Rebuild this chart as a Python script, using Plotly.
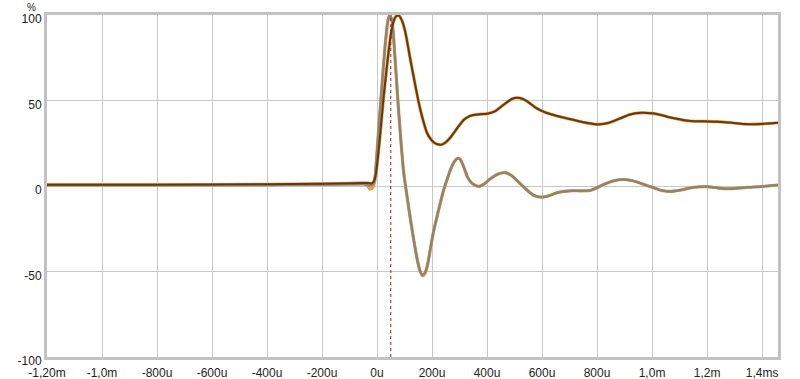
import plotly.graph_objects as go

# time axis in microseconds
t_step = [-1200, -800, -400, -200, -100, -50, -30, -20, -12, -4, 4, 12, 24, 36, 48, 58, 68, 79, 90, 100,
          109, 120, 133, 145, 157, 170, 182, 195, 208, 220, 235, 250, 265, 279, 297, 315, 333, 351, 375, 400,
          430, 460, 490, 510, 530, 546, 575, 605, 635, 666, 700, 730, 765, 801, 840, 885, 920, 960, 1000, 1030,
          1055, 1100, 1139, 1190, 1237, 1290, 1333, 1400, 1458]
step = [0.8, 0.8, 1.0, 1.3, 1.6, 1.8, 1.7, 1.5, 2.5, 7, 18, 31, 52, 70, 86, 95, 99, 99.7, 97, 92,
        85, 75, 64, 54, 45, 37, 31, 27.5, 25.3, 24.4, 24.2, 25.6, 28, 31, 35, 38.6, 40.6, 41.5, 42, 42.3,
        43.8, 47.5, 50.9, 51.6, 50.9, 49.5, 46, 43.5, 41.8, 40.5, 39.2, 38, 36.8, 36, 36.8, 39.6, 41.8, 42.8, 42.5, 41.6,
        40.5, 39, 38, 37.8, 37.6, 37, 36.2, 36.3, 37]

t_imp = [-1200, -800, -400, -200, -100, -50, -35, -25, -15, -8, 0, 10, 20, 30, 40, 47, 55, 65, 75, 85,
         97, 110, 122, 133, 145, 155, 165, 175, 185, 195, 205, 218, 230, 242, 255, 267, 280, 293, 303, 315,
         328, 340, 355, 372, 390, 410, 440, 466, 490, 515, 546, 570, 594, 619, 645, 666, 703, 740, 775, 800,
         823, 860, 896, 925, 946, 975, 1005, 1035, 1066, 1100, 1150, 1201, 1240, 1274, 1310, 1346, 1400, 1458]
impulse = [0.5, 0.5, 0.6, 0.8, 1.0, 1.0, 0.7, 0.4, 1.0, 5, 20, 42, 63, 83, 97, 100, 96, 76, 52, 30,
           8, -7, -20, -31, -42, -49, -52, -50.5, -45, -36, -27, -18, -10, -2.5, 4, 9.5, 14, 16.2, 15.5, 11.3,
           5.6, 2.5, 0.6, -0.2, 1.2, 4, 7, 7.8, 6, 2.2, -2.5, -5.5, -6.5, -6, -4.5, -3.5, -2.8, -2.8, -2.6, -1,
           0.8, 3, 3.8, 3.2, 2.3, 0.6, -1, -2.6, -3.2, -2.5, -0.8, -0.4, -1.2, -1.6, -1.3, -0.8, -0.3, 0.6]

# orange overlay (second measurement, nearly identical to the impulse)
orange = [0.6, 0.6, 0.8, 1.0, 1.2, 1.3, 0.2, -1.8, -0.6, 3, 20, 42, 63, 83, 97, 100, 96, 76, 52, 30,
          8, -7, -20, -31, -42, -49, -52.5, -51, -45, -36, -27, -18, -10, -2.5, 4, 9.5, 14, 16.2, 15.5, 11.3,
          5.6, 2.5, 0.6, -0.2, 1.2, 4, 7, 7.8, 6, 2.2, -2.5, -5.5, -6.5, -6, -4.5, -3.5, -2.8, -2.8, -2.6, -1,
          0.8, 3, 3.8, 3.2, 2.3, 0.6, -1, -2.6, -3.2, -2.5, -0.8, -0.4, -1.2, -1.6, -1.3, -0.8, -0.3, 0.6]

marker_t = 50

x_ticks = [-1200, -1000, -800, -600, -400, -200, 0, 200, 400, 600, 800, 1000, 1200, 1400]
x_labels = ["-1,20m", "-1,0m", "-800u", "-600u", "-400u", "-200u", "0u", "200u", "400u", "600u",
            "800u", "1,0m", "1,2m", "1,4ms"]
y_ticks = [-100, -50, 0, 50, 100]
y_labels = ["-100", "-50", "0", "50", "100"]

spl = dict(shape="spline", smoothing=0.6)
fig = go.Figure()
fig.add_trace(go.Scatter(x=t_step, y=step, mode="lines", line=dict(color="#E39A45", width=3.2, **spl)))
fig.add_trace(go.Scatter(x=t_imp, y=orange, mode="lines", line=dict(color="#E39A45", width=3.2, **spl)))
fig.add_trace(go.Scatter(x=t_imp, y=impulse, mode="lines", line=dict(color="#8E8474", width=2.4, **spl)))
fig.add_trace(go.Scatter(x=t_step, y=step, mode="lines", line=dict(color="#673810", width=2.0, **spl)))

fig.add_shape(type="line", x0=marker_t, x1=marker_t, y0=-100, y1=100, xref="x", yref="y",
              line=dict(color="#A01818", width=1, dash="dot"))

fig.add_annotation(text="%", xref="paper", yref="paper", x=-0.012, y=1.0, yshift=15, showarrow=False,
                   xanchor="right", yanchor="top", font=dict(size=10, color="#222"))

fig.update_layout(
    width=800, height=379,
    margin=dict(l=47, r=22, t=15, b=22, pad=0),
    paper_bgcolor="white", plot_bgcolor="white",
    showlegend=False,
    font=dict(family="Liberation Sans, Arial, sans-serif", size=12, color="#222"),
    xaxis=dict(range=[-1200, 1458], tickmode="array", tickvals=x_ticks, ticktext=x_labels,
               showgrid=True, gridcolor="#C8C8C8", gridwidth=1, zeroline=False, automargin=False,
               showline=True, mirror=True, linecolor="#C2C2C2", linewidth=3, ticks="", ticklen=0,
               ticklabelstandoff=3),
    yaxis=dict(range=[-100, 100], tickmode="array", tickvals=y_ticks, ticktext=y_labels,
               showgrid=True, gridcolor="#C8C8C8", gridwidth=1, zeroline=False, automargin=False,
               showline=True, mirror=True, linecolor="#C2C2C2", linewidth=3, ticks="", ticklen=0,
               ticklabelshift=4),
)

fig.write_html("out.html")
